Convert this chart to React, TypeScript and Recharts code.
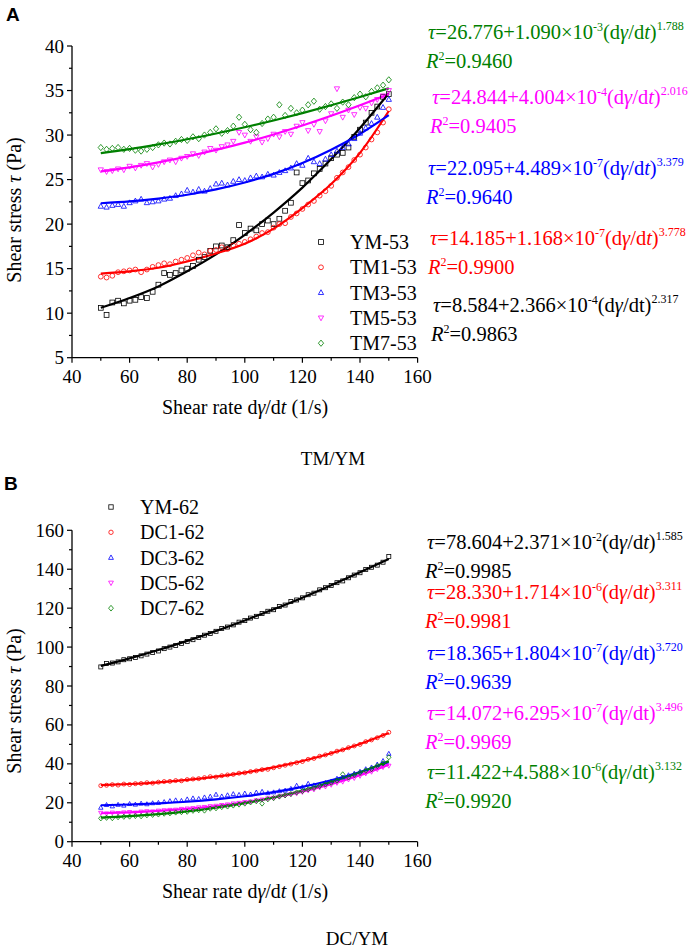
import React from 'react';
import { ComposedChart, Line, Scatter, XAxis, YAxis } from 'recharts';

const SERIF = '"Liberation Serif", "Times New Roman", serif';

const RATE = [
  50, 52, 54, 56, 58, 60, 62, 64, 66, 68,
  70, 72, 74, 76, 78, 80, 82, 84, 86, 88,
  90, 92, 94, 96, 98, 100, 102, 104, 106, 108,
  110, 112, 114, 116, 118, 120, 122, 124, 126, 128,
  130, 132, 134, 136, 138, 140, 142, 144, 146, 148,
  150,
];
const FIT_RATE = [50, 60, 70, 80, 90, 100, 110, 120, 130, 140, 150];
const X_TICKS = [40, 50, 60, 70, 80, 90, 100, 110, 120, 130, 140, 150, 160];
const Y_TICKS_A = [5, 7.5, 10, 12.5, 15, 17.5, 20, 22.5, 25, 27.5, 30, 32.5, 35, 37.5, 40];
const Y_TICKS_B = [0, 10, 20, 30, 40, 50, 60, 70, 80, 90, 100, 110, 120, 130, 140, 150, 160];

// panel A, TM/YM
const YM53 = [
  10.6, 9.8, 11.2, 11.4, 11.1, 11.4, 11.5, 11.8, 11.7, 12.4,
  13.2, 14.5, 14.3, 14.5, 14.8, 15.0, 15.3, 16.0, 16.3, 17.0,
  17.5, 17.6, 17.4, 18.2, 19.9, 19.0, 19.5, 19.3, 20.0, 20.4,
  20.0, 20.6, 21.5, 22.4, 25.8, 24.6, 24.9, 25.7, 26.2, 26.8,
  27.4, 27.8, 28.0, 28.6, 29.8, 30.6, 31.4, 32.5, 33.2, 34.3,
  34.6,
];
const TM1_53 = [
  14.1, 14.0, 14.2, 14.6, 14.7, 14.8, 14.9, 14.6, 14.9, 15.2,
  15.4, 15.6, 15.5, 15.8, 16.0, 16.2, 16.5, 16.8, 16.6, 17.0,
  17.1, 17.4, 17.2, 17.6, 17.8, 18.0, 18.3, 18.6, 19.0, 19.1,
  19.6, 20.0, 20.1, 20.8, 21.2, 21.7, 22.2, 22.6, 23.2, 23.7,
  24.3, 25.2, 25.8, 26.4, 27.2, 27.8, 28.6, 29.5, 30.3, 31.4,
  32.9,
];
const TM3_53 = [
  22.0, 21.9, 22.1, 22.2, 22.0, 22.4, 22.6, 22.8, 22.4, 22.5,
  22.6, 22.8, 22.9, 23.2, 23.4, 23.8, 23.6, 23.9, 23.7, 24.0,
  24.5, 24.6, 24.4, 24.8, 25.0, 24.9, 25.2, 25.4, 25.3, 25.6,
  25.5, 25.8, 26.0, 26.3, 26.8, 26.6, 27.4, 27.0, 26.8, 27.3,
  27.8, 28.2, 28.6, 29.0, 29.6, 30.2, 30.8, 31.3, 32.0, 33.1,
  34.0,
];
const TM5_53 = [
  26.1, 25.9, 26.0, 26.2, 26.1, 26.5, 26.3, 26.6, 26.8, 26.4,
  26.7, 27.0, 27.2, 27.0, 27.4, 27.6, 27.9, 27.7, 28.1, 28.5,
  28.3, 28.7, 28.9, 29.3, 30.3, 30.0, 29.3, 29.8, 29.2, 29.6,
  30.1, 29.8, 30.4, 30.1, 31.0, 31.4, 30.5, 31.2, 30.4, 31.6,
  32.4, 35.2, 32.0, 32.8, 32.3, 33.1, 33.0, 33.6, 34.0, 34.4,
  35.0,
];
const TM7_53 = [
  28.6, 28.4, 28.5, 28.6, 28.4, 28.5, 28.3, 28.2, 28.4, 28.6,
  28.9, 29.1, 29.0, 29.3, 29.5, 29.4, 29.8, 29.6, 30.0, 30.3,
  30.7, 30.2, 30.5, 31.0, 32.0, 31.2, 30.6, 30.3, 31.3, 31.8,
  32.0, 33.4, 32.2, 33.0, 32.5, 32.8, 33.4, 33.8, 32.9, 33.2,
  33.5, 33.0, 33.7, 33.4, 34.2, 34.6, 34.3, 34.9, 35.3, 35.6,
  36.2,
];
const FIT_YM53 = [10.6, 11.7, 13.0, 14.7, 16.6, 18.8, 21.3, 24.1, 27.3, 30.8, 34.7];
const FIT_TM1_53 = [14.45, 14.7, 15.1, 15.8, 16.7, 17.8, 19.5, 21.8, 24.5, 28.0, 32.7];
const FIT_TM3_53 = [22.34, 22.55, 22.87, 23.3, 23.9, 24.67, 25.64, 26.86, 28.35, 30.12, 32.23];
const FIT_TM5_53 = [25.91, 26.38, 26.94, 27.59, 28.33, 29.15, 30.07, 31.07, 32.16, 33.34, 34.61];
const FIT_TM7_53 = [27.97, 28.42, 28.95, 29.53, 30.18, 30.88, 31.64, 32.46, 33.34, 34.27, 35.25];

// panel B, DC/YM
const YM62 = [
  89.8, 91.6, 91.8, 92.4, 93.5, 94.0, 94.6, 95.5, 96.4, 97.2,
  98.0, 99.2, 100.0, 100.8, 101.9, 102.9, 103.8, 104.9, 106.1, 107.0,
  108.1, 109.5, 110.3, 111.4, 112.8, 113.6, 114.9, 115.8, 117.3, 118.4,
  119.2, 120.8, 121.6, 123.4, 124.2, 125.3, 126.9, 127.7, 129.4, 130.5,
  131.6, 133.1, 134.0, 135.6, 137.0, 138.2, 139.9, 141.0, 142.1, 143.6,
  146.5,
];
const DC1_62 = [
  28.8, 29.0, 29.3, 29.1, 29.6, 29.4, 29.8, 29.9, 30.3, 30.1,
  30.6, 30.9, 31.0, 31.4, 31.3, 31.9, 32.2, 32.4, 32.9, 33.4,
  33.2, 33.9, 34.3, 34.6, 35.2, 35.4, 36.0, 36.4, 37.0, 37.2,
  38.0, 38.6, 39.3, 39.9, 40.6, 41.2, 42.3, 42.8, 43.9, 44.6,
  45.4, 46.5, 47.2, 48.3, 49.2, 50.0, 51.4, 52.3, 53.4, 54.6,
  56.2,
];
const DC3_62 = [
  17.5, 18.9, 18.2, 19.0, 18.6, 19.4, 19.1, 19.6, 19.3, 19.8,
  20.0, 20.4, 20.9, 21.3, 21.0, 21.8, 22.3, 22.0, 22.8, 23.2,
  24.2, 23.3, 23.9, 24.5, 24.1, 24.8, 24.3, 25.3, 25.7, 25.0,
  25.4, 26.0, 26.3, 27.2, 28.8, 28.0, 29.8, 29.0, 29.4, 30.2,
  31.0, 32.4, 33.0, 34.2, 35.0, 36.0, 37.3, 38.2, 39.7, 41.5,
  45.2,
];
const DC5_62 = [
  14.8, 14.5, 14.9, 14.7, 15.0, 15.2, 14.9, 15.4, 15.6, 15.5,
  15.9, 16.1, 16.3, 16.4, 16.8, 17.0, 17.2, 17.6, 17.8, 18.2,
  18.4, 18.8, 19.1, 19.6, 19.9, 20.3, 20.6, 21.2, 21.6, 22.2,
  22.5, 23.2, 23.7, 24.4, 24.8, 25.5, 26.3, 26.8, 27.8, 28.3,
  29.2, 30.2, 30.8, 31.9, 32.7, 33.8, 35.0, 35.9, 37.2, 38.3,
  39.0,
];
const DC7_62 = [
  12.0, 12.3, 12.1, 12.6, 12.8, 12.9, 13.2, 13.1, 13.6, 13.8,
  14.0, 14.4, 14.6, 15.0, 15.2, 15.4, 15.9, 16.2, 16.0, 17.0,
  17.2, 17.8, 18.1, 18.6, 19.1, 19.6, 20.2, 20.8, 19.6, 21.8,
  22.4, 23.2, 23.8, 24.5, 25.3, 26.0, 26.9, 27.6, 28.6, 29.4,
  30.3, 31.4, 34.6, 33.0, 34.3, 35.4, 36.5, 37.3, 38.9, 40.2,
  43.4,
];
const FIT_YM62 = [90.3, 94.2, 98.5, 103.2, 108.3, 113.7, 119.4, 125.4, 131.8, 138.4, 145.3];
const FIT_DC1_62 = [29.05, 29.65, 30.53, 31.76, 33.4, 35.5, 38.16, 41.44, 45.47, 50.2, 55.8];
const FIT_DC3_62 = [18.74, 19.11, 19.68, 20.53, 21.73, 23.34, 25.44, 28.15, 31.57, 35.76, 40.85];
const FIT_DC5_62 = [14.62, 15.11, 15.85, 16.91, 18.35, 20.25, 22.68, 25.74, 29.55, 34.13, 39.6];
const FIT_DC7_62 = [12.38, 13.12, 14.18, 15.61, 17.48, 19.84, 22.75, 26.31, 30.61, 35.6, 41.4];

const NAMES_A = ['YM-53', 'TM1-53', 'TM3-53', 'TM5-53', 'TM7-53'];
const NAMES_B = ['YM-62', 'DC1-62', 'DC3-62', 'DC5-62', 'DC7-62'];
const COLORS = ['#000000', '#ff0000', '#0000ff', '#ff00ff', '#008000'];

// fitted equations: [constant, coefficient, exponent of ten, power, R²]
const EQ_A = [
  ['8.584', '2.366', '-4', '2.317', '0.9863'],
  ['14.185', '1.168', '-7', '3.778', '0.9900'],
  ['22.095', '4.489', '-7', '3.379', '0.9640'],
  ['24.844', '4.004', '-4', '2.016', '0.9405'],
  ['26.776', '1.090', '-3', '1.788', '0.9460'],
];
const EQ_B = [
  ['78.604', '2.371', '-2', '1.585', '0.9985'],
  ['28.330', '1.714', '-6', '3.311', '0.9981'],
  ['18.365', '1.804', '-7', '3.720', '0.9639'],
  ['14.072', '6.295', '-7', '3.496', '0.9969'],
  ['11.422', '4.588', '-6', '3.132', '0.9920'],
];

const pts = (ys: number[]) => RATE.map((x, i) => ({ x, y: ys[i] }));
const fit = (ys: number[]) => FIT_RATE.map((x, i) => ({ x, y: ys[i] }));

type MarkProps = { cx?: number; cy?: number; color: string; s: number };

function Mark({ cx = 0, cy = 0, color, s, kind }: MarkProps & { kind: number }) {
  const common = { fill: 'none', stroke: color, strokeWidth: 0.8 };
  if (kind === 0) return <rect x={cx - s} y={cy - s} width={2 * s} height={2 * s} {...common} />;
  if (kind === 1) return <circle cx={cx} cy={cy} r={s} {...common} />;
  if (kind === 2)
    return <polygon points={`${cx},${cy - s * 1.2} ${cx - s * 1.1},${cy + s * 0.8} ${cx + s * 1.1},${cy + s * 0.8}`} {...common} />;
  if (kind === 3)
    return <polygon points={`${cx},${cy + s * 1.2} ${cx - s * 1.1},${cy - s * 0.8} ${cx + s * 1.1},${cy - s * 0.8}`} {...common} />;
  return <polygon points={`${cx},${cy - s * 1.3} ${cx + s * 1.1},${cy} ${cx},${cy + s * 1.3} ${cx - s * 1.1},${cy}`} {...common} />;
}

const XTick = (props: any) => {
  const { x, y, payload } = props;
  const major = payload.value % 20 === 0;
  return (
    <g>
      <line x1={x} x2={x} y1={y} y2={y + (major ? 5 : 3)} stroke="#000" strokeWidth={1.2} />
      {major && (
        <text x={x} y={y + 25} textAnchor="middle" fontSize={19} fontFamily={SERIF} fill="#000">
          {payload.value}
        </text>
      )}
    </g>
  );
};

const makeYTick = (step: number) => (props: any) => {
  const { x, y, payload } = props;
  const major = payload.value % step === 0;
  return (
    <g>
      <line x1={x} x2={x - (major ? 5 : 3)} y1={y} y2={y} stroke="#000" strokeWidth={1.2} />
      {major && (
        <text x={x - 8} y={y + 6.5} textAnchor="end" fontSize={19} fontFamily={SERIF} fill="#000">
          {payload.value}
        </text>
      )}
    </g>
  );
};

type PanelProps = {
  top: number;
  height: number;
  plotTop: number;
  plotBottom: number;
  domain: [number, number];
  yTicks: number[];
  step: number;
  series: number[][];
  fits: number[][];
  size: number;
};

function Panel({ top, height, plotTop, plotBottom, domain, yTicks, step, series, fits, size }: PanelProps) {
  return (
    <div style={{ position: 'absolute', left: 0, top }}>
      <ComposedChart
        width={692}
        height={height}
        margin={{ top: plotTop, right: 274.4, bottom: height - plotBottom - 30, left: 12 }}
      >
        <XAxis
          dataKey="x"
          type="number"
          domain={[40, 160]}
          ticks={X_TICKS}
          interval={0}
          height={30}
          tickSize={0}
          tickMargin={0}
          tickLine={false}
          tick={<XTick />}
          axisLine={{ stroke: '#000', strokeWidth: 1.3 }}
          allowDataOverflow
        />
        <YAxis
          dataKey="y"
          type="number"
          domain={domain}
          ticks={yTicks}
          interval={0}
          width={60}
          tickSize={0}
          tickMargin={0}
          tickLine={false}
          tick={makeYTick(step)}
          axisLine={{ stroke: '#000', strokeWidth: 1.3 }}
          allowDataOverflow
        />
        {series.map((ys, i) => (
          <Scatter
            key={`s${i}`}
            data={pts(ys)}
            dataKey="y"
            isAnimationActive={false}
            shape={(p: any) => <Mark cx={p.cx} cy={p.cy} color={COLORS[i]} s={size} kind={i} />}
          />
        ))}
        {fits.map((ys, i) => (
          <Line
            key={`f${i}`}
            data={fit(ys)}
            dataKey="y"
            type="monotone"
            stroke={COLORS[i]}
            strokeWidth={2.2}
            dot={false}
            activeDot={false}
            isAnimationActive={false}
          />
        ))}
      </ComposedChart>
    </div>
  );
}

function Equation({ x, y, color, eq, tItalic }: { x: number; y: number; color: string; eq: string[]; tItalic: boolean }) {
  return (
    <g>
      <text x={x} y={y} fontSize={20.5} fontFamily={SERIF} fill={color}>
        <tspan fontStyle="italic">τ</tspan>={eq[0]}+{eq[1]}×10
        <tspan dy={-8} fontSize={12}>{eq[2]}</tspan>
        <tspan dy={8}>(d</tspan>
        <tspan fontStyle="italic">γ</tspan>/d
        <tspan fontStyle={tItalic ? 'italic' : 'normal'}>t</tspan>)
        <tspan dy={-9} fontSize={12}>{eq[3]}</tspan>
      </text>
      <text x={x - 2} y={y + 29} fontSize={20.5} fontFamily={SERIF} fill={color}>
        <tspan fontStyle="italic">R</tspan>
        <tspan dy={-8} fontSize={12}>2</tspan>
        <tspan dy={8}>={eq[4]}</tspan>
      </text>
    </g>
  );
}

function Legend({ x, y0, gap, names, size }: { x: number; y0: number; gap: number; names: string[]; size: number }) {
  return (
    <g>
      {names.map((n, i) => (
        <g key={n}>
          <Mark cx={x} cy={y0 + i * gap} color={COLORS[i]} s={size} kind={i} />
          <text x={x + 29} y={y0 + i * gap + 7} fontSize={20} fontFamily={SERIF} fill="#000">
            {n}
          </text>
        </g>
      ))}
    </g>
  );
}

const SHEAR_RATE = (
  <>
    Shear rate d<tspan fontStyle="italic">γ</tspan>/d<tspan fontStyle="italic">t</tspan> (1/s)
  </>
);
const SHEAR_STRESS = (
  <>
    Shear stress <tspan fontStyle="italic">τ</tspan> (Pa)
  </>
);

export default function App() {
  const eqA_y = [305, 238, 168, 97, 32];
  const eqA_x = [433, 430, 428, 432, 428];
  const eqB_y = [542, 592, 653, 713, 772];
  return (
    <div style={{ position: 'absolute', left: 0, top: 0, width: 692, height: 949, background: '#fff' }}>
      <Panel
        top={0}
        height={470}
        plotTop={46}
        plotBottom={357.7}
        domain={[5, 40]}
        yTicks={Y_TICKS_A}
        step={5}
        series={[YM53, TM1_53, TM3_53, TM5_53, TM7_53]}
        fits={[FIT_YM53, FIT_TM1_53, FIT_TM3_53, FIT_TM5_53, FIT_TM7_53]}
        size={2.4}
      />
      <Panel
        top={470}
        height={479}
        plotTop={60.3}
        plotBottom={371.7}
        domain={[0, 160]}
        yTicks={Y_TICKS_B}
        step={20}
        series={[YM62, DC1_62, DC3_62, DC5_62, DC7_62]}
        fits={[FIT_YM62, FIT_DC1_62, FIT_DC3_62, FIT_DC5_62, FIT_DC7_62]}
        size={2}
      />
      <svg
        width={692}
        height={949}
        style={{ position: 'absolute', left: 0, top: 0, pointerEvents: 'none' }}
      >
        <text x={6} y={21} fontSize={19} fontWeight="bold" fontFamily="Arial, 'Liberation Sans', sans-serif">A</text>
        <text x={4} y={490} fontSize={19} fontWeight="bold" fontFamily="Arial, 'Liberation Sans', sans-serif">B</text>

        <text transform="rotate(-90)" x={-210} y={21} textAnchor="middle" fontSize={20} fontFamily={SERIF}>
          {SHEAR_STRESS}
        </text>
        <text transform="rotate(-90)" x={-701} y={21} textAnchor="middle" fontSize={20} fontFamily={SERIF}>
          {SHEAR_STRESS}
        </text>
        <text x={245} y={414} textAnchor="middle" fontSize={20} fontFamily={SERIF}>
          {SHEAR_RATE}
        </text>
        <text x={245} y={898} textAnchor="middle" fontSize={20} fontFamily={SERIF}>
          {SHEAR_RATE}
        </text>
        <text x={333} y={465} textAnchor="middle" fontSize={19} fontFamily={SERIF}>TM/YM</text>
        <text x={357} y={945} textAnchor="middle" fontSize={19} fontFamily={SERIF}>DC/YM</text>

        <Legend x={321} y0={242} gap={25.3} names={NAMES_A} size={2.4} />
        <Legend x={111} y0={507} gap={25.3} names={NAMES_B} size={2.2} />

        {EQ_A.map((eq, i) => (
          <Equation key={`a${i}`} x={eqA_x[i]} y={eqA_y[i] + 7} color={COLORS[i]} eq={eq} tItalic={i !== 0} />
        ))}
        {EQ_B.map((eq, i) => (
          <Equation key={`b${i}`} x={427} y={eqB_y[i] + 7} color={COLORS[i]} eq={eq} tItalic={i < 2} />
        ))}
      </svg>
    </div>
  );
}
